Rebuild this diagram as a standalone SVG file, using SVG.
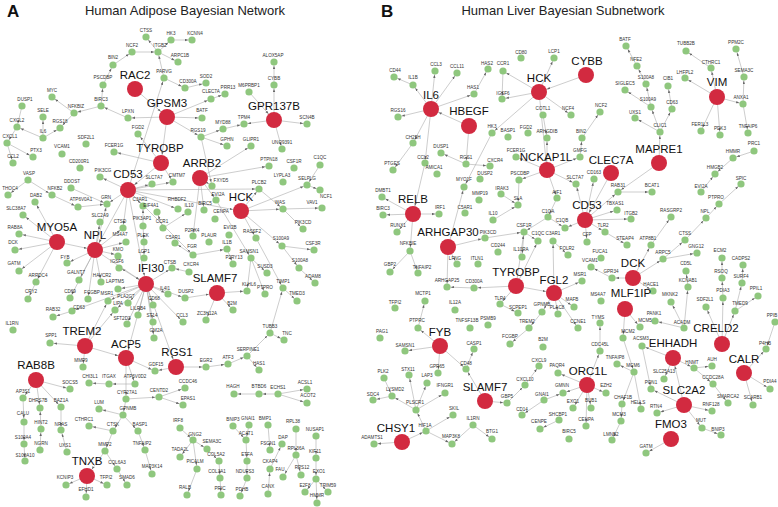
<svg xmlns="http://www.w3.org/2000/svg" width="778" height="507" viewBox="0 0 778 507">
<style>
.e{stroke:#ababab;stroke-width:0.6;fill:none}
.es line{marker-end:url(#ms)}
.eh line{marker-end:url(#mh)}
.g{fill:#8fc77e}
.r{fill:#d22a40}
.s{font-family:"Liberation Sans",Arial,sans-serif;font-size:4.6px;text-anchor:middle;fill:#333}
.h{font-family:"Liberation Sans",Arial,sans-serif;font-size:11.5px;text-anchor:middle;fill:#111}
.t{font-family:"Liberation Sans",Arial,sans-serif;font-size:13px;text-anchor:middle;fill:#222}
.p{font-family:"Liberation Sans",Arial,sans-serif;font-size:17px;font-weight:bold;fill:#111}
</style>
<defs>
<marker id="ms" markerUnits="userSpaceOnUse" markerWidth="4" markerHeight="3" refX="7" refY="1.2" orient="auto"><path d="M0,0L3.2,1.2L0,2.4z" fill="#666"/></marker>
<marker id="mh" markerUnits="userSpaceOnUse" markerWidth="4" markerHeight="3" refX="11.5" refY="1.2" orient="auto"><path d="M0,0L3.2,1.2L0,2.4z" fill="#666"/></marker>
</defs>
<rect width="778" height="507" fill="#fff"/>
<text class="p" x="7" y="17">A</text>
<text class="t" x="185" y="15">Human Adipose Bayesian Network</text>
<text class="p" x="381" y="17">B</text>
<text class="t" x="563" y="15">Human Liver Bayesian Subnetwork</text>
<g id="connectors" class="e">
<g class="es">
<line x1="171" y1="40" x2="192" y2="40"/><line x1="158" y1="52" x2="146" y2="37"/><line x1="158" y1="52" x2="171" y2="40"/><line x1="132" y1="52" x2="158" y2="52"/><line x1="113" y1="65" x2="132" y2="52"/><line x1="158" y1="52" x2="178" y2="62"/><line x1="164" y1="78" x2="158" y2="52"/><line x1="103" y1="85" x2="113" y2="65"/><line x1="101" y1="106" x2="103" y2="85"/><line x1="164" y1="78" x2="185" y2="88"/><line x1="128" y1="190" x2="164" y2="78"/><line x1="167" y1="117" x2="128" y2="118"/><line x1="128" y1="118" x2="101" y2="106"/><line x1="101" y1="106" x2="74" y2="113"/><line x1="74" y1="113" x2="52" y2="97"/><line x1="74" y1="113" x2="60" y2="128"/><line x1="43" y1="138" x2="43" y2="117"/><line x1="43" y1="138" x2="17" y2="127"/><line x1="22" y1="106" x2="17" y2="127"/><line x1="17" y1="127" x2="7" y2="143"/><line x1="7" y1="143" x2="33" y2="157"/><line x1="7" y1="143" x2="13" y2="163"/><line x1="43" y1="138" x2="60" y2="128"/><line x1="161" y1="163" x2="114" y2="152"/><line x1="161" y1="163" x2="138" y2="134"/><line x1="167" y1="117" x2="202" y2="118"/><line x1="167" y1="117" x2="211" y2="99"/><line x1="167" y1="117" x2="201" y2="137"/><line x1="185" y1="88" x2="206" y2="83"/><line x1="211" y1="99" x2="225" y2="94"/><line x1="201" y1="137" x2="223" y2="129"/><line x1="223" y1="129" x2="244" y2="124"/><line x1="201" y1="137" x2="227" y2="146"/><line x1="201" y1="137" x2="212" y2="186"/><line x1="200" y1="178" x2="251" y2="146"/><line x1="274" y1="120" x2="274" y2="85"/><line x1="274" y1="85" x2="274" y2="62"/><line x1="274" y1="120" x2="307" y2="124"/><line x1="274" y1="120" x2="282" y2="149"/><line x1="274" y1="120" x2="244" y2="124"/><line x1="200" y1="178" x2="269" y2="166"/><line x1="320" y1="165" x2="307" y2="185"/><line x1="307" y1="185" x2="320" y2="190"/><line x1="241" y1="211" x2="307" y2="185"/><line x1="241" y1="211" x2="259" y2="189"/><line x1="259" y1="189" x2="283" y2="209"/><line x1="241" y1="211" x2="283" y2="209"/><line x1="283" y1="209" x2="322" y2="208"/><line x1="283" y1="209" x2="303" y2="229"/><line x1="241" y1="211" x2="282" y2="246"/><line x1="282" y1="246" x2="314" y2="250"/><line x1="282" y1="246" x2="299" y2="268"/><line x1="299" y1="268" x2="315" y2="283"/><line x1="200" y1="178" x2="216" y2="200"/><line x1="216" y1="200" x2="251" y2="258"/><line x1="251" y1="258" x2="247" y2="291"/><line x1="251" y1="258" x2="265" y2="294"/><line x1="251" y1="258" x2="267" y2="273"/><line x1="256" y1="238" x2="283" y2="288"/><line x1="283" y1="288" x2="297" y2="301"/><line x1="270" y1="333" x2="283" y2="288"/><line x1="270" y1="333" x2="284" y2="340"/><line x1="217" y1="293" x2="247" y2="291"/><line x1="217" y1="293" x2="233" y2="310"/><line x1="217" y1="293" x2="206" y2="320"/><line x1="227" y1="249" x2="233" y2="264"/><line x1="193" y1="255" x2="227" y2="249"/><line x1="200" y1="178" x2="204" y2="210"/><line x1="200" y1="178" x2="193" y2="236"/><line x1="241" y1="211" x2="256" y2="238"/><line x1="176" y1="367" x2="206" y2="367"/><line x1="206" y1="367" x2="228" y2="364"/><line x1="228" y1="364" x2="247" y2="356"/><line x1="247" y1="356" x2="259" y2="370"/><line x1="247" y1="356" x2="270" y2="333"/><line x1="278" y1="394" x2="259" y2="394"/><line x1="259" y1="394" x2="234" y2="394"/><line x1="278" y1="394" x2="307" y2="389"/><line x1="278" y1="394" x2="307" y2="403"/><line x1="233" y1="426" x2="246" y2="440"/><line x1="249" y1="425" x2="246" y2="440"/><line x1="246" y1="440" x2="247" y2="461"/><line x1="247" y1="461" x2="247" y2="478"/><line x1="247" y1="478" x2="240" y2="496"/><line x1="268" y1="425" x2="270" y2="450"/><line x1="270" y1="469" x2="282" y2="444"/><line x1="268" y1="494" x2="270" y2="469"/><line x1="296" y1="429" x2="296" y2="455"/><line x1="296" y1="455" x2="283" y2="477"/><line x1="296" y1="455" x2="301" y2="475"/><line x1="316" y1="436" x2="316" y2="458"/><line x1="316" y1="458" x2="316" y2="479"/><line x1="316" y1="479" x2="305" y2="492"/><line x1="316" y1="479" x2="328" y2="492"/><line x1="316" y1="479" x2="317" y2="503"/><line x1="180" y1="428" x2="193" y2="440"/><line x1="193" y1="440" x2="207" y2="449"/><line x1="193" y1="440" x2="197" y2="469"/><line x1="197" y1="469" x2="187" y2="495"/><line x1="193" y1="440" x2="180" y2="457"/><line x1="219" y1="461" x2="220" y2="478"/><line x1="220" y1="478" x2="221" y2="495"/><line x1="207" y1="449" x2="219" y2="461"/><line x1="36" y1="380" x2="23" y2="398"/><line x1="36" y1="380" x2="40" y2="408"/><line x1="36" y1="380" x2="61" y2="407"/><line x1="36" y1="380" x2="70" y2="389"/><line x1="23" y1="398" x2="24" y2="422"/><line x1="24" y1="422" x2="24" y2="444"/><line x1="24" y1="444" x2="25" y2="461"/><line x1="41" y1="429" x2="40" y2="408"/><line x1="40" y1="450" x2="41" y2="429"/><line x1="61" y1="407" x2="61" y2="430"/><line x1="67" y1="452" x2="61" y2="430"/><line x1="85" y1="346" x2="50" y2="343"/><line x1="85" y1="346" x2="83" y2="367"/><line x1="126" y1="358" x2="135" y2="384"/><line x1="126" y1="358" x2="155" y2="371"/><line x1="176" y1="367" x2="155" y2="371"/><line x1="135" y1="384" x2="109" y2="384"/><line x1="109" y1="384" x2="89" y2="383"/><line x1="126" y1="358" x2="126" y2="399"/><line x1="126" y1="399" x2="159" y2="397"/><line x1="159" y1="397" x2="185" y2="388"/><line x1="159" y1="397" x2="183" y2="405"/><line x1="126" y1="399" x2="123" y2="415"/><line x1="123" y1="415" x2="99" y2="409"/><line x1="123" y1="415" x2="113" y2="431"/><line x1="123" y1="415" x2="138" y2="431"/><line x1="113" y1="431" x2="89" y2="426"/><line x1="113" y1="431" x2="105" y2="451"/><line x1="138" y1="431" x2="145" y2="450"/><line x1="145" y1="450" x2="152" y2="474"/><line x1="105" y1="451" x2="117" y2="469"/><line x1="117" y1="469" x2="127" y2="485"/><line x1="87" y1="476" x2="66" y2="485"/><line x1="87" y1="476" x2="107" y2="485"/><line x1="87" y1="476" x2="86" y2="497"/><line x1="146" y1="284" x2="154" y2="338"/><line x1="146" y1="284" x2="153" y2="322"/><line x1="146" y1="284" x2="183" y2="322"/><line x1="146" y1="284" x2="185" y2="298"/><line x1="146" y1="284" x2="168" y2="294"/><line x1="146" y1="284" x2="153" y2="305"/><line x1="146" y1="284" x2="172" y2="268"/><line x1="146" y1="284" x2="138" y2="315"/><line x1="146" y1="284" x2="128" y2="303"/><line x1="146" y1="284" x2="118" y2="289"/><line x1="146" y1="284" x2="115" y2="310"/><line x1="146" y1="284" x2="108" y2="301"/><line x1="146" y1="284" x2="127" y2="324"/><line x1="146" y1="284" x2="72" y2="311"/><line x1="146" y1="284" x2="119" y2="267"/><line x1="95" y1="250" x2="107" y2="204"/><line x1="95" y1="250" x2="100" y2="222"/><line x1="95" y1="250" x2="123" y2="228"/><line x1="95" y1="250" x2="126" y2="242"/><line x1="95" y1="250" x2="118" y2="255"/><line x1="95" y1="250" x2="101" y2="282"/><line x1="95" y1="250" x2="79" y2="280"/><line x1="95" y1="250" x2="67" y2="263"/><line x1="95" y1="250" x2="70" y2="298"/><line x1="95" y1="250" x2="88" y2="299"/><line x1="57" y1="242" x2="35" y2="202"/><line x1="57" y1="242" x2="23" y2="215"/><line x1="57" y1="242" x2="19" y2="234"/><line x1="57" y1="242" x2="15" y2="250"/><line x1="57" y1="242" x2="19" y2="271"/><line x1="57" y1="242" x2="36" y2="282"/><line x1="36" y1="282" x2="28" y2="299"/><line x1="28" y1="180" x2="52" y2="195"/><line x1="28" y1="180" x2="8" y2="195"/><line x1="52" y1="195" x2="78" y2="207"/><line x1="78" y1="207" x2="107" y2="204"/><line x1="128" y1="190" x2="107" y2="204"/><line x1="128" y1="190" x2="100" y2="177"/><line x1="128" y1="190" x2="152" y2="184"/><line x1="128" y1="190" x2="173" y2="182"/><line x1="128" y1="190" x2="143" y2="206"/><line x1="128" y1="190" x2="123" y2="228"/><line x1="128" y1="190" x2="193" y2="255"/><line x1="128" y1="190" x2="178" y2="209"/><line x1="128" y1="190" x2="259" y2="189"/><line x1="163" y1="228" x2="157" y2="212"/><line x1="163" y1="228" x2="188" y2="212"/><line x1="143" y1="226" x2="143" y2="206"/><line x1="161" y1="163" x2="173" y2="182"/><line x1="143" y1="226" x2="144" y2="242"/><line x1="144" y1="242" x2="144" y2="258"/><line x1="193" y1="255" x2="175" y2="243"/><line x1="189" y1="272" x2="172" y2="268"/><line x1="72" y1="311" x2="53" y2="317"/><line x1="85" y1="346" x2="115" y2="310"/><line x1="85" y1="346" x2="108" y2="301"/><line x1="200" y1="178" x2="212" y2="186"/><line x1="71" y1="188" x2="107" y2="204"/>
<line x1="413" y1="85" x2="394" y2="77"/><line x1="431" y1="109" x2="413" y2="85"/><line x1="431" y1="109" x2="435" y2="71"/><line x1="431" y1="109" x2="457" y2="73"/><line x1="431" y1="109" x2="398" y2="117"/><line x1="431" y1="109" x2="474" y2="94"/><line x1="474" y1="94" x2="488" y2="69"/><line x1="431" y1="109" x2="413" y2="143"/><line x1="431" y1="109" x2="425" y2="163"/><line x1="413" y1="143" x2="393" y2="170"/><line x1="469" y1="126" x2="466" y2="164"/><line x1="466" y1="164" x2="441" y2="153"/><line x1="466" y1="164" x2="490" y2="166"/><line x1="503" y1="71" x2="502" y2="99"/><line x1="539" y1="92" x2="502" y2="99"/><line x1="539" y1="92" x2="503" y2="71"/><line x1="539" y1="92" x2="571" y2="115"/><line x1="539" y1="92" x2="492" y2="133"/><line x1="492" y1="133" x2="464" y2="187"/><line x1="543" y1="115" x2="547" y2="138"/><line x1="547" y1="170" x2="547" y2="138"/><line x1="547" y1="170" x2="516" y2="157"/><line x1="547" y1="170" x2="580" y2="157"/><line x1="580" y1="157" x2="582" y2="138"/><line x1="582" y1="138" x2="600" y2="112"/><line x1="547" y1="170" x2="519" y2="180"/><line x1="547" y1="170" x2="557" y2="198"/><line x1="547" y1="170" x2="576" y2="184"/><line x1="519" y1="180" x2="518" y2="205"/><line x1="501" y1="194" x2="518" y2="205"/><line x1="493" y1="220" x2="518" y2="205"/><line x1="557" y1="198" x2="548" y2="217"/><line x1="548" y1="217" x2="524" y2="232"/><line x1="548" y1="217" x2="565" y2="228"/><line x1="524" y1="232" x2="538" y2="241"/><line x1="485" y1="238" x2="524" y2="232"/><line x1="448" y1="247" x2="485" y2="238"/><line x1="448" y1="247" x2="464" y2="187"/><line x1="448" y1="247" x2="447" y2="287"/><line x1="448" y1="247" x2="457" y2="264"/><line x1="524" y1="232" x2="522" y2="257"/><line x1="516" y1="286" x2="524" y2="232"/><line x1="516" y1="286" x2="474" y2="288"/><line x1="474" y1="288" x2="447" y2="287"/><line x1="516" y1="286" x2="500" y2="304"/><line x1="554" y1="293" x2="553" y2="241"/><line x1="553" y1="241" x2="568" y2="255"/><line x1="516" y1="286" x2="538" y2="241"/><line x1="554" y1="293" x2="582" y2="281"/><line x1="554" y1="293" x2="574" y2="307"/><line x1="554" y1="293" x2="558" y2="314"/><line x1="554" y1="293" x2="542" y2="312"/><line x1="542" y1="312" x2="529" y2="328"/><line x1="500" y1="304" x2="518" y2="313"/><line x1="585" y1="220" x2="565" y2="228"/><line x1="585" y1="220" x2="594" y2="179"/><line x1="585" y1="220" x2="618" y2="192"/><line x1="618" y1="192" x2="652" y2="192"/><line x1="585" y1="220" x2="617" y2="210"/><line x1="585" y1="220" x2="631" y2="219"/><line x1="585" y1="220" x2="605" y2="232"/><line x1="605" y1="232" x2="627" y2="245"/><line x1="585" y1="220" x2="587" y2="242"/><line x1="585" y1="220" x2="576" y2="184"/><line x1="659" y1="163" x2="660" y2="132"/><line x1="660" y1="132" x2="635" y2="118"/><line x1="660" y1="132" x2="651" y2="107"/><line x1="660" y1="132" x2="672" y2="109"/><line x1="672" y1="109" x2="668" y2="86"/><line x1="651" y1="107" x2="625" y2="90"/><line x1="651" y1="107" x2="646" y2="84"/><line x1="646" y1="84" x2="637" y2="66"/><line x1="637" y1="66" x2="626" y2="46"/><line x1="659" y1="163" x2="618" y2="192"/><line x1="717" y1="97" x2="685" y2="78"/><line x1="717" y1="97" x2="711" y2="68"/><line x1="711" y1="68" x2="686" y2="51"/><line x1="717" y1="97" x2="743" y2="104"/><line x1="743" y1="104" x2="744" y2="77"/><line x1="744" y1="77" x2="736" y2="49"/><line x1="743" y1="104" x2="748" y2="133"/><line x1="717" y1="97" x2="701" y2="131"/><line x1="717" y1="97" x2="720" y2="135"/><line x1="754" y1="151" x2="733" y2="158"/><line x1="733" y1="158" x2="715" y2="174"/><line x1="719" y1="204" x2="741" y2="184"/><line x1="706" y1="218" x2="719" y2="204"/><line x1="685" y1="240" x2="706" y2="218"/><line x1="663" y1="259" x2="685" y2="240"/><line x1="663" y1="259" x2="697" y2="253"/><line x1="633" y1="278" x2="663" y2="259"/><line x1="633" y1="278" x2="651" y2="245"/><line x1="651" y1="245" x2="671" y2="217"/><line x1="633" y1="278" x2="653" y2="291"/><line x1="633" y1="278" x2="612" y2="278"/><line x1="612" y1="278" x2="591" y2="267"/><line x1="701" y1="192" x2="715" y2="174"/><line x1="722" y1="344" x2="706" y2="307"/><line x1="722" y1="344" x2="723" y2="298"/><line x1="722" y1="344" x2="735" y2="311"/><line x1="723" y1="298" x2="722" y2="278"/><line x1="722" y1="278" x2="722" y2="258"/><line x1="735" y1="311" x2="742" y2="283"/><line x1="742" y1="283" x2="743" y2="265"/><line x1="735" y1="311" x2="758" y2="296"/><line x1="744" y1="373" x2="766" y2="349"/><line x1="744" y1="373" x2="770" y2="389"/><line x1="744" y1="373" x2="753" y2="405"/><line x1="775" y1="322" x2="766" y2="349"/><line x1="673" y1="358" x2="642" y2="346"/><line x1="673" y1="358" x2="694" y2="368"/><line x1="694" y1="368" x2="712" y2="366"/><line x1="673" y1="358" x2="664" y2="379"/><line x1="694" y1="368" x2="713" y2="384"/><line x1="713" y1="384" x2="728" y2="403"/><line x1="684" y1="405" x2="651" y2="389"/><line x1="684" y1="405" x2="657" y2="413"/><line x1="684" y1="405" x2="712" y2="411"/><line x1="684" y1="405" x2="702" y2="428"/><line x1="702" y1="428" x2="721" y2="435"/><line x1="671" y1="439" x2="646" y2="453"/><line x1="642" y1="346" x2="651" y2="389"/><line x1="587" y1="385" x2="600" y2="351"/><line x1="587" y1="385" x2="606" y2="393"/><line x1="587" y1="385" x2="591" y2="408"/><line x1="587" y1="385" x2="586" y2="426"/><line x1="587" y1="385" x2="558" y2="373"/><line x1="587" y1="385" x2="563" y2="393"/><line x1="587" y1="385" x2="573" y2="408"/><line x1="600" y1="351" x2="600" y2="323"/><line x1="634" y1="372" x2="617" y2="364"/><line x1="634" y1="372" x2="641" y2="409"/><line x1="634" y1="372" x2="622" y2="404"/><line x1="622" y1="404" x2="621" y2="421"/><line x1="621" y1="421" x2="612" y2="440"/><line x1="623" y1="338" x2="634" y2="372"/><line x1="625" y1="309" x2="640" y2="327"/><line x1="625" y1="309" x2="623" y2="338"/><line x1="684" y1="328" x2="688" y2="287"/><line x1="688" y1="287" x2="686" y2="271"/><line x1="684" y1="328" x2="671" y2="302"/><line x1="684" y1="328" x2="655" y2="321"/><line x1="559" y1="420" x2="540" y2="429"/><line x1="544" y1="400" x2="522" y2="415"/><line x1="544" y1="400" x2="563" y2="393"/><line x1="525" y1="385" x2="539" y2="366"/><line x1="485" y1="401" x2="507" y2="403"/><line x1="507" y1="403" x2="525" y2="385"/><line x1="485" y1="401" x2="466" y2="369"/><line x1="466" y1="369" x2="474" y2="349"/><line x1="440" y1="346" x2="466" y2="369"/><line x1="440" y1="346" x2="418" y2="328"/><line x1="440" y1="346" x2="405" y2="351"/><line x1="440" y1="346" x2="438" y2="373"/><line x1="418" y1="328" x2="425" y2="301"/><line x1="416" y1="410" x2="409" y2="375"/><line x1="416" y1="410" x2="427" y2="383"/><line x1="416" y1="410" x2="392" y2="396"/><line x1="426" y1="431" x2="416" y2="410"/><line x1="426" y1="431" x2="453" y2="415"/><line x1="426" y1="431" x2="452" y2="444"/><line x1="402" y1="442" x2="426" y2="431"/><line x1="402" y1="442" x2="374" y2="444"/><line x1="473" y1="425" x2="452" y2="444"/><line x1="473" y1="425" x2="492" y2="439"/><line x1="416" y1="410" x2="445" y2="393"/><line x1="392" y1="396" x2="373" y2="400"/><line x1="384" y1="378" x2="392" y2="396"/><line x1="413" y1="214" x2="439" y2="214"/><line x1="413" y1="214" x2="383" y2="215"/><line x1="413" y1="214" x2="382" y2="197"/><line x1="413" y1="214" x2="397" y2="232"/><line x1="413" y1="214" x2="410" y2="251"/><line x1="410" y1="251" x2="390" y2="272"/><line x1="410" y1="251" x2="418" y2="273"/><line x1="529" y1="328" x2="510" y2="344"/><line x1="539" y1="92" x2="554" y2="58"/><line x1="554" y1="293" x2="578" y2="328"/>
</g>
<g class="eh">
<line x1="135" y1="89" x2="167" y2="117"/><line x1="167" y1="117" x2="161" y2="163"/><line x1="249" y1="92" x2="274" y2="120"/><line x1="128" y1="190" x2="241" y2="211"/><line x1="185" y1="298" x2="217" y2="293"/><line x1="85" y1="346" x2="126" y2="358"/><line x1="105" y1="451" x2="87" y2="476"/><line x1="146" y1="284" x2="126" y2="358"/><line x1="146" y1="284" x2="176" y2="367"/><line x1="128" y1="190" x2="146" y2="284"/><line x1="95" y1="250" x2="146" y2="284"/><line x1="128" y1="190" x2="95" y2="250"/><line x1="57" y1="242" x2="95" y2="250"/><line x1="161" y1="163" x2="128" y2="190"/>
<line x1="469" y1="126" x2="431" y2="109"/><line x1="586" y1="75" x2="539" y2="92"/><line x1="539" y1="92" x2="547" y2="170"/><line x1="516" y1="286" x2="554" y2="293"/><line x1="611" y1="173" x2="585" y2="220"/><line x1="684" y1="405" x2="673" y2="358"/><line x1="425" y1="163" x2="413" y2="214"/>
</g>
</g>
<g id="a_CTSS"><circle class="g" cx="146" cy="37" r="3.6"/><text class="s" x="146" y="31.5">CTSS</text></g>
<g id="a_HK3"><circle class="g" cx="171" cy="40" r="3.6"/><text class="s" x="171" y="34.5">HK3</text></g>
<g id="a_KCNN4"><circle class="g" cx="192" cy="40" r="3.6"/><text class="s" x="195" y="34.5">KCNN4</text></g>
<g id="a_NCF2"><circle class="g" cx="132" cy="52" r="3.6"/><text class="s" x="132" y="46.5">NCF2</text></g>
<g id="a_ITGB2"><circle class="g" cx="158" cy="52" r="3.6"/><text class="s" x="160" y="46.5">ITGB2</text></g>
<g id="a_ARPC1B"><circle class="g" cx="178" cy="62" r="3.6"/><text class="s" x="180" y="56.5">ARPC1B</text></g>
<g id="a_BIN2"><circle class="g" cx="113" cy="65" r="3.6"/><text class="s" x="113" y="58.6">BIN2</text></g>
<g id="a_PARVG"><circle class="g" cx="164" cy="78" r="3.6"/><text class="s" x="164" y="72.5">PARVG</text></g>
<g id="a_CD300A"><circle class="g" cx="185" cy="88" r="3.6"/><text class="s" x="188" y="82.5">CD300A</text></g>
<g id="a_PSCDBP"><circle class="g" cx="103" cy="85" r="3.6"/><text class="s" x="103" y="78.6">PSCDBP</text></g>
<g id="a_MYC"><circle class="g" cx="52" cy="97" r="3.6"/><text class="s" x="52" y="91.5">MYC</text></g>
<g id="a_DUSP1"><circle class="g" cx="22" cy="106" r="3.6"/><text class="s" x="25" y="100.5">DUSP1</text></g>
<g id="a_NFKBIZ"><circle class="g" cx="74" cy="113" r="3.6"/><text class="s" x="76" y="107.5">NFKBIZ</text></g>
<g id="a_BIRC3"><circle class="g" cx="101" cy="106" r="3.6"/><text class="s" x="101" y="100.5">BIRC3</text></g>
<g id="a_LPXN"><circle class="g" cx="128" cy="118" r="3.6"/><text class="s" x="128" y="112.5">LPXN</text></g>
<g id="a_SELE"><circle class="g" cx="43" cy="117" r="3.6"/><text class="s" x="43" y="111.5">SELE</text></g>
<g id="a_RGS18"><circle class="g" cx="60" cy="128" r="3.6"/><text class="s" x="60" y="122.5">RGS18</text></g>
<g id="a_CXCL2"><circle class="g" cx="17" cy="127" r="3.6"/><text class="s" x="17" y="121.5">CXCL2</text></g>
<g id="a_IL6"><circle class="g" cx="43" cy="138" r="3.6"/><text class="s" x="43" y="133">IL6</text></g>
<g id="a_FGD2"><circle class="g" cx="138" cy="134" r="3.6"/><text class="s" x="138" y="128.5">FGD2</text></g>
<g id="a_CXCL1"><circle class="g" cx="7" cy="143" r="3.6"/><text class="s" x="10" y="137.5">CXCL1</text></g>
<g id="a_SDF2L1"><circle class="g" cx="86" cy="144" r="3.6"/><text class="s" x="86" y="138.5">SDF2L1</text></g>
<g id="a_FCER1G"><circle class="g" cx="114" cy="152" r="3.6"/><text class="s" x="114" y="146.5">FCER1G</text></g>
<g id="a_PTX3"><circle class="g" cx="33" cy="157" r="3.6"/><text class="s" x="36" y="151.5">PTX3</text></g>
<g id="a_VCAM1"><circle class="g" cx="62" cy="154" r="3.6"/><text class="s" x="62" y="148">VCAM1</text></g>
<g id="a_CCL2"><circle class="g" cx="13" cy="163" r="3.6"/><text class="s" x="13" y="157.5">CCL2</text></g>
<g id="a_CD200R1"><circle class="g" cx="80" cy="168" r="3.6"/><text class="s" x="79" y="162.5">CD200R1</text></g>
<g id="a_PIK3CG"><circle class="g" cx="100" cy="177" r="3.6"/><text class="s" x="103" y="171.5">PIK3CG</text></g>
<g id="a_SOD2"><circle class="g" cx="206" cy="83" r="3.6"/><text class="s" x="206" y="77.5">SOD2</text></g>
<g id="a_PRR13"><circle class="g" cx="225" cy="94" r="3.6"/><text class="s" x="228" y="88.5">PRR13</text></g>
<g id="a_CLEC7A"><circle class="g" cx="211" cy="99" r="3.6"/><text class="s" x="211" y="93">CLEC7A</text></g>
<g id="a_ALOX5AP"><circle class="g" cx="274" cy="62" r="3.6"/><text class="s" x="273" y="56.5">ALOX5AP</text></g>
<g id="a_M6PRBP1"><circle class="g" cx="249" cy="92" r="3.6"/><text class="s" x="249" y="86.5">M6PRBP1</text></g>
<g id="a_CYBB"><circle class="g" cx="274" cy="85" r="3.6"/><text class="s" x="274" y="79.5">CYBB</text></g>
<g id="a_SCN4B"><circle class="g" cx="307" cy="124" r="3.6"/><text class="s" x="307" y="118.5">SCN4B</text></g>
<g id="a_BATF"><circle class="g" cx="202" cy="118" r="3.6"/><text class="s" x="202" y="112">BATF</text></g>
<g id="a_MYD88"><circle class="g" cx="223" cy="129" r="3.6"/><text class="s" x="223" y="123.5">MYD88</text></g>
<g id="a_TPM4"><circle class="g" cx="244" cy="124" r="3.6"/><text class="s" x="244" y="118.5">TPM4</text></g>
<g id="a_RGS19"><circle class="g" cx="201" cy="137" r="3.6"/><text class="s" x="198" y="131.5">RGS19</text></g>
<g id="a_GPHN"><circle class="g" cx="227" cy="146" r="3.6"/><text class="s" x="227" y="140.5">GPHN</text></g>
<g id="a_GLIPR1"><circle class="g" cx="251" cy="146" r="3.6"/><text class="s" x="251" y="140.5">GLIPR1</text></g>
<g id="a_UNQ9391"><circle class="g" cx="282" cy="149" r="3.6"/><text class="s" x="282" y="143.5">UNQ9391</text></g>
<g id="a_PTPN18"><circle class="g" cx="269" cy="166" r="3.6"/><text class="s" x="269" y="160.5">PTPN18</text></g>
<g id="a_CSF1R"><circle class="g" cx="294" cy="168" r="3.6"/><text class="s" x="294" y="162.5">CSF1R</text></g>
<g id="a_C1QC"><circle class="g" cx="320" cy="165" r="3.6"/><text class="s" x="320" y="158.6">C1QC</text></g>
<g id="a_LYPLA3"><circle class="g" cx="283" cy="182" r="3.6"/><text class="s" x="282" y="176.5">LYPLA3</text></g>
<g id="a_SELPLG"><circle class="g" cx="307" cy="185" r="3.6"/><text class="s" x="307" y="179.5">SELPLG</text></g>
<g id="a_NCF1"><circle class="g" cx="320" cy="190" r="3.6"/><text class="s" x="326" y="197.5">NCF1</text></g>
<g id="a_PLCB2"><circle class="g" cx="259" cy="189" r="3.6"/><text class="s" x="259" y="183.5">PLCB2</text></g>
<g id="a_WAS"><circle class="g" cx="283" cy="209" r="3.6"/><text class="s" x="280" y="203.5">WAS</text></g>
<g id="a_VAV1"><circle class="g" cx="322" cy="208" r="3.6"/><text class="s" x="312" y="203.5">VAV1</text></g>
<g id="a_PIK3CD"><circle class="g" cx="303" cy="229" r="3.6"/><text class="s" x="303" y="223.5">PIK3CD</text></g>
<g id="a_S100A9"><circle class="g" cx="282" cy="246" r="3.6"/><text class="s" x="281" y="239.6">S100A9</text></g>
<g id="a_CSF3R"><circle class="g" cx="314" cy="250" r="3.6"/><text class="s" x="313" y="244.5">CSF3R</text></g>
<g id="a_S100A8"><circle class="g" cx="299" cy="268" r="3.6"/><text class="s" x="300" y="261.6">S100A8</text></g>
<g id="a_ADAM8"><circle class="g" cx="315" cy="283" r="3.6"/><text class="s" x="313" y="277.5">ADAM8</text></g>
<g id="a_SLC7A7"><circle class="g" cx="152" cy="184" r="3.6"/><text class="s" x="154" y="179">SLC7A7</text></g>
<g id="a_CMTM7"><circle class="g" cx="173" cy="182" r="3.6"/><text class="s" x="177" y="176.5">CMTM7</text></g>
<g id="a_FXYD5"><circle class="g" cx="212" cy="186" r="3.6"/><text class="s" x="221" y="182">FXYD5</text></g>
<g id="a_EVI2A"><circle class="g" cx="216" cy="200" r="3.6"/><text class="s" x="218" y="195.5">EVI2A</text></g>
<g id="a_VASP"><circle class="g" cx="28" cy="180" r="3.6"/><text class="s" x="29" y="174.5">VASP</text></g>
<g id="a_THOC4"><circle class="g" cx="8" cy="195" r="3.6"/><text class="s" x="10" y="190">THOC4</text></g>
<g id="a_NFKB2"><circle class="g" cx="52" cy="195" r="3.6"/><text class="s" x="55" y="190">NFKB2</text></g>
<g id="a_DDOST"><circle class="g" cx="71" cy="188" r="3.6"/><text class="s" x="72" y="182.5">DDOST</text></g>
<g id="a_DAB2"><circle class="g" cx="35" cy="202" r="3.6"/><text class="s" x="36" y="196.5">DAB2</text></g>
<g id="a_ATP6V0A1"><circle class="g" cx="78" cy="207" r="3.6"/><text class="s" x="81" y="201">ATP6V0A1</text></g>
<g id="a_GRN"><circle class="g" cx="107" cy="204" r="3.6"/><text class="s" x="106" y="198.5">GRN</text></g>
<g id="a_C3AR1"><circle class="g" cx="143" cy="206" r="3.6"/><text class="s" x="140" y="200.5">C3AR1</text></g>
<g id="a_RHBDF2"><circle class="g" cx="178" cy="209" r="3.6"/><text class="s" x="177" y="201">RHBDF2</text></g>
<g id="a_EIF4A1"><circle class="g" cx="157" cy="212" r="3.6"/><text class="s" x="151" y="206.5">EIF4A1</text></g>
<g id="a_IL10"><circle class="g" cx="188" cy="212" r="3.6"/><text class="s" x="189" y="207">IL10</text></g>
<g id="a_SLC38A7"><circle class="g" cx="23" cy="215" r="3.6"/><text class="s" x="16" y="209.5">SLC38A7</text></g>
<g id="a_SLC2A9"><circle class="g" cx="100" cy="222" r="3.6"/><text class="s" x="100" y="216.5">SLC2A9</text></g>
<g id="a_CTSD"><circle class="g" cx="123" cy="228" r="3.6"/><text class="s" x="120" y="222.5">CTSD</text></g>
<g id="a_PIK3AP1"><circle class="g" cx="143" cy="226" r="3.6"/><text class="s" x="142" y="219.6">PIK3AP1</text></g>
<g id="a_CCR1"><circle class="g" cx="163" cy="228" r="3.6"/><text class="s" x="162" y="223">CCR1</text></g>
<g id="a_RAB8A"><circle class="g" cx="19" cy="234" r="3.6"/><text class="s" x="15" y="228.5">RAB8A</text></g>
<g id="a_MS4A7"><circle class="g" cx="126" cy="242" r="3.6"/><text class="s" x="120" y="235.6">MS4A7</text></g>
<g id="a_KMO"><circle class="g" cx="118" cy="256" r="3.6"/><text class="s" x="118" y="250.5">KMO</text></g>
<g id="a_PLEK"><circle class="g" cx="144" cy="242" r="3.6"/><text class="s" x="143" y="236.6">PLEK</text></g>
<g id="a_LCP1"><circle class="g" cx="144" cy="258" r="3.6"/><text class="s" x="144" y="252.5">LCP1</text></g>
<g id="a_C5AR1"><circle class="g" cx="175" cy="243" r="3.6"/><text class="s" x="173" y="238.5">C5AR1</text></g>
<g id="a_P2RX4"><circle class="g" cx="193" cy="236" r="3.6"/><text class="s" x="192" y="231.5">P2RX4</text></g>
<g id="a_FGR"><circle class="g" cx="193" cy="255" r="3.6"/><text class="s" x="192" y="248">FGR</text></g>
<g id="a_DCK"><circle class="g" cx="15" cy="250" r="3.6"/><text class="s" x="13" y="243.6">DCK</text></g>
<g id="a_FYB"><circle class="g" cx="67" cy="263" r="3.6"/><text class="s" x="65" y="258.5">FYB</text></g>
<g id="a_GATM"><circle class="g" cx="19" cy="271" r="3.6"/><text class="s" x="14" y="264.6">GATM</text></g>
<g id="a_IGSF6"><circle class="g" cx="119" cy="268" r="3.6"/><text class="s" x="117" y="263">IGSF6</text></g>
<g id="a_CTSB"><circle class="g" cx="172" cy="268" r="3.6"/><text class="s" x="170" y="263.5">CTSB</text></g>
<g id="a_CXCR4"><circle class="g" cx="189" cy="272" r="3.6"/><text class="s" x="191" y="265.5">CXCR4</text></g>
<g id="a_ARRDC4"><circle class="g" cx="36" cy="282" r="3.6"/><text class="s" x="38" y="276.5">ARRDC4</text></g>
<g id="a_CRY2"><circle class="g" cx="28" cy="299" r="3.6"/><text class="s" x="31" y="292.6">CRY2</text></g>
<g id="a_GALNT7"><circle class="g" cx="79" cy="280" r="3.6"/><text class="s" x="76" y="273.6">GALNT7</text></g>
<g id="a_HAVCR2"><circle class="g" cx="101" cy="282" r="3.6"/><text class="s" x="102" y="277.2">HAVCR2</text></g>
<g id="a_LAPTM5"><circle class="g" cx="118" cy="289" r="3.6"/><text class="s" x="115" y="283">LAPTM5</text></g>
<g id="a_IL4I1"><circle class="g" cx="168" cy="294" r="3.6"/><text class="s" x="165" y="289.5">IL4I1</text></g>
<g id="a_DUSP2"><circle class="g" cx="185" cy="298" r="3.6"/><text class="s" x="186" y="293">DUSP2</text></g>
<g id="a_CD68"><circle class="g" cx="153" cy="305" r="3.6"/><text class="s" x="154" y="299.5">CD68</text></g>
<g id="a_CD69"><circle class="g" cx="70" cy="298" r="3.6"/><text class="s" x="70" y="292.5">CD69</text></g>
<g id="a_FCGBP"><circle class="g" cx="88" cy="299" r="3.6"/><text class="s" x="92" y="294">FCGBP</text></g>
<g id="a_MSR1"><circle class="g" cx="108" cy="301" r="3.6"/><text class="s" x="107" y="294.5">MSR1</text></g>
<g id="a_PLA2G7"><circle class="g" cx="128" cy="303" r="3.6"/><text class="s" x="126" y="298">PLA2G7</text></g>
<g id="a_LIPA"><circle class="g" cx="115" cy="310" r="3.6"/><text class="s" x="118" y="305.2">LIPA</text></g>
<g id="a_CD63"><circle class="g" cx="72" cy="311" r="3.6"/><text class="s" x="79" y="308.5">CD63</text></g>
<g id="a_RAB32"><circle class="g" cx="53" cy="317" r="3.6"/><text class="s" x="53" y="310.6">RAB32</text></g>
<g id="a_LILRB4"><circle class="g" cx="138" cy="315" r="3.6"/><text class="s" x="138" y="309.6">LILRB4</text></g>
<g id="a_ST14"><circle class="g" cx="153" cy="322" r="3.6"/><text class="s" x="152" y="316.6">ST14</text></g>
<g id="a_SFT2D2"><circle class="g" cx="127" cy="324" r="3.6"/><text class="s" x="122" y="319.6">SFT2D2</text></g>
<g id="a_CCL3"><circle class="g" cx="183" cy="322" r="3.6"/><text class="s" x="182" y="316.6">CCL3</text></g>
<g id="a_GM2A"><circle class="g" cx="154" cy="338" r="3.6"/><text class="s" x="156" y="331.6">GM2A</text></g>
<g id="a_IL1RN"><circle class="g" cx="13" cy="330" r="3.6"/><text class="s" x="12" y="324.6">IL1RN</text></g>
<g id="a_SPP1"><circle class="g" cx="50" cy="343" r="3.6"/><text class="s" x="51" y="336.6">SPP1</text></g>
<g id="a_ZC3H12A"><circle class="g" cx="206" cy="320" r="3.6"/><text class="s" x="207" y="314.6">ZC3H12A</text></g>
<g id="a_BIRC5"><circle class="g" cx="204" cy="210" r="3.6"/><text class="s" x="205" y="204.6">BIRC5</text></g>
<g id="a_CENPA"><circle class="g" cx="215" cy="219" r="3.6"/><text class="s" x="221" y="213">CENPA</text></g>
<g id="a_EVI2B"><circle class="g" cx="229" cy="235" r="3.6"/><text class="s" x="230" y="228.6">EVI2B</text></g>
<g id="a_PLAUR"><circle class="g" cx="209" cy="242" r="3.6"/><text class="s" x="209" y="236.6">PLAUR</text></g>
<g id="a_IL1B"><circle class="g" cx="227" cy="249" r="3.6"/><text class="s" x="227" y="243.6">IL1B</text></g>
<g id="a_RASSF2"><circle class="g" cx="256" cy="238" r="3.6"/><text class="s" x="252" y="232.6">RASSF2</text></g>
<g id="a_P2RY13"><circle class="g" cx="233" cy="264" r="3.6"/><text class="s" x="234" y="258.6">P2RY13</text></g>
<g id="a_SAMSN1"><circle class="g" cx="251" cy="258" r="3.6"/><text class="s" x="249" y="252.6">SAMSN1</text></g>
<g id="a_SUSD3"><circle class="g" cx="267" cy="273" r="3.6"/><text class="s" x="265" y="267.6">SUSD3</text></g>
<g id="a_TIMP1"><circle class="g" cx="283" cy="288" r="3.6"/><text class="s" x="283" y="282.6">TIMP1</text></g>
<g id="a_TMED3"><circle class="g" cx="297" cy="301" r="3.6"/><text class="s" x="297" y="294.6">TMED3</text></g>
<g id="a_PTPRO"><circle class="g" cx="265" cy="294" r="3.6"/><text class="s" x="265" y="289.2">PTPRO</text></g>
<g id="a_KLHL6"><circle class="g" cx="247" cy="291" r="3.6"/><text class="s" x="249" y="285.8">KLHL6</text></g>
<g id="a_B2M"><circle class="g" cx="233" cy="310" r="3.6"/><text class="s" x="232" y="304.6">B2M</text></g>
<g id="a_TUBB3"><circle class="g" cx="270" cy="333" r="3.6"/><text class="s" x="270" y="327.6">TUBB3</text></g>
<g id="a_TNC"><circle class="g" cx="284" cy="340" r="3.6"/><text class="s" x="287" y="334.6">TNC</text></g>
<g id="a_SERPINE1"><circle class="g" cx="247" cy="356" r="3.6"/><text class="s" x="248" y="350.6">SERPINE1</text></g>
<g id="a_HAS1"><circle class="g" cx="259" cy="370" r="3.6"/><text class="s" x="259" y="364.6">HAS1</text></g>
<g id="a_ATF3"><circle class="g" cx="228" cy="364" r="3.6"/><text class="s" x="228" y="358.6">ATF3</text></g>
<g id="a_EGR2"><circle class="g" cx="206" cy="367" r="3.6"/><text class="s" x="206" y="361.6">EGR2</text></g>
<g id="a_HAGH"><circle class="g" cx="234" cy="394" r="3.6"/><text class="s" x="233" y="387.6">HAGH</text></g>
<g id="a_BTBD6"><circle class="g" cx="259" cy="394" r="3.6"/><text class="s" x="259" y="387.6">BTBD6</text></g>
<g id="a_ECHS1"><circle class="g" cx="278" cy="394" r="3.6"/><text class="s" x="278" y="388.6">ECHS1</text></g>
<g id="a_ACSL1"><circle class="g" cx="307" cy="389" r="3.6"/><text class="s" x="305" y="383.6">ACSL1</text></g>
<g id="a_ACOT2"><circle class="g" cx="307" cy="403" r="3.6"/><text class="s" x="308" y="396.6">ACOT2</text></g>
<g id="a_BNIP3"><circle class="g" cx="233" cy="426" r="3.6"/><text class="s" x="233" y="420.6">BNIP3</text></g>
<g id="a_GNAI1"><circle class="g" cx="249" cy="425" r="3.6"/><text class="s" x="248" y="419.6">GNAI1</text></g>
<g id="a_ACAT1"><circle class="g" cx="246" cy="440" r="3.6"/><text class="s" x="246" y="435">ACAT1</text></g>
<g id="a_ETFA"><circle class="g" cx="247" cy="461" r="3.6"/><text class="s" x="247" y="455.6">ETFA</text></g>
<g id="a_NDUFS3"><circle class="g" cx="247" cy="478" r="3.6"/><text class="s" x="245" y="472.6">NDUFS3</text></g>
<g id="a_PDHB"><circle class="g" cx="240" cy="496" r="3.6"/><text class="s" x="242" y="490.6">PDHB</text></g>
<g id="a_BMP1"><circle class="g" cx="268" cy="425" r="3.6"/><text class="s" x="265" y="419.6">BMP1</text></g>
<g id="a_FSCN1"><circle class="g" cx="270" cy="450" r="3.6"/><text class="s" x="268" y="444.6">FSCN1</text></g>
<g id="a_CKAP4"><circle class="g" cx="270" cy="469" r="3.6"/><text class="s" x="270" y="462.6">CKAP4</text></g>
<g id="a_CANX"><circle class="g" cx="268" cy="494" r="3.6"/><text class="s" x="268" y="487.6">CANX</text></g>
<g id="a_DAP"><circle class="g" cx="282" cy="444" r="3.6"/><text class="s" x="283" y="438.6">DAP</text></g>
<g id="a_RPL38"><circle class="g" cx="296" cy="429" r="3.6"/><text class="s" x="293" y="422.6">RPL38</text></g>
<g id="a_RPL36A"><circle class="g" cx="296" cy="455" r="3.6"/><text class="s" x="296" y="449.6">RPL36A</text></g>
<g id="a_FAU"><circle class="g" cx="283" cy="477" r="3.6"/><text class="s" x="280" y="470.6">FAU</text></g>
<g id="a_RPS12"><circle class="g" cx="301" cy="475" r="3.6"/><text class="s" x="302" y="468.6">RPS12</text></g>
<g id="a_NUSAP1"><circle class="g" cx="316" cy="436" r="3.6"/><text class="s" x="315" y="430.6">NUSAP1</text></g>
<g id="a_KIF11"><circle class="g" cx="316" cy="458" r="3.6"/><text class="s" x="315" y="452.6">KIF11</text></g>
<g id="a_EXO1"><circle class="g" cx="316" cy="479" r="3.6"/><text class="s" x="319" y="472.6">EXO1</text></g>
<g id="a_E2F8"><circle class="g" cx="305" cy="492" r="3.6"/><text class="s" x="305" y="486.6">E2F8</text></g>
<g id="a_TRIM59"><circle class="g" cx="328" cy="492" r="3.6"/><text class="s" x="328" y="486.6">TRIM59</text></g>
<g id="a_HMMR"><circle class="g" cx="317" cy="503" r="3.6"/><text class="s" x="317" y="497">HMMR</text></g>
<g id="a_SEMA3C"><circle class="g" cx="207" cy="449" r="3.6"/><text class="s" x="212" y="442.6">SEMA3C</text></g>
<g id="a_COL5A2"><circle class="g" cx="219" cy="461" r="3.6"/><text class="s" x="216" y="456">COL5A2</text></g>
<g id="a_COL3A1"><circle class="g" cx="220" cy="478" r="3.6"/><text class="s" x="217" y="472.6">COL3A1</text></g>
<g id="a_PRIC"><circle class="g" cx="221" cy="495" r="3.6"/><text class="s" x="220" y="489.6">PRIC</text></g>
<g id="a_GNG2"><circle class="g" cx="193" cy="440" r="3.6"/><text class="s" x="195" y="435.6">GNG2</text></g>
<g id="a_PICALM"><circle class="g" cx="197" cy="469" r="3.6"/><text class="s" x="195" y="462.6">PICALM</text></g>
<g id="a_RALB"><circle class="g" cx="187" cy="495" r="3.6"/><text class="s" x="185" y="488.6">RALB</text></g>
<g id="a_TADA2L"><circle class="g" cx="180" cy="457" r="3.6"/><text class="s" x="180" y="450.6">TADA2L</text></g>
<g id="a_IRF8"><circle class="g" cx="180" cy="428" r="3.6"/><text class="s" x="178" y="421.6">IRF8</text></g>
<g id="a_MMP9"><circle class="g" cx="83" cy="367" r="3.6"/><text class="s" x="81" y="361.6">MMP9</text></g>
<g id="a_SOCS5"><circle class="g" cx="70" cy="389" r="3.6"/><text class="s" x="70" y="384.2">SOCS5</text></g>
<g id="a_CHI3L1"><circle class="g" cx="89" cy="383" r="3.6"/><text class="s" x="90" y="377.6">CHI3L1</text></g>
<g id="a_ITGAX"><circle class="g" cx="109" cy="384" r="3.6"/><text class="s" x="109" y="377.6">ITGAX</text></g>
<g id="a_ATP6V0D2"><circle class="g" cx="135" cy="384" r="3.6"/><text class="s" x="135" y="377.6">ATP6V0D2</text></g>
<g id="a_GDF15"><circle class="g" cx="155" cy="371" r="3.6"/><text class="s" x="156" y="365.6">GDF15</text></g>
<g id="a_CCDC46"><circle class="g" cx="185" cy="388" r="3.6"/><text class="s" x="188" y="382.6">CCDC46</text></g>
<g id="a_CYP27A1"><circle class="g" cx="126" cy="399" r="3.6"/><text class="s" x="127" y="393.6">CYP27A1</text></g>
<g id="a_CENTD2"><circle class="g" cx="159" cy="397" r="3.6"/><text class="s" x="159" y="391.6">CENTD2</text></g>
<g id="a_EPAS1"><circle class="g" cx="183" cy="405" r="3.6"/><text class="s" x="188" y="399.6">EPAS1</text></g>
<g id="a_AP3S1"><circle class="g" cx="23" cy="398" r="3.6"/><text class="s" x="23" y="392.6">AP3S1</text></g>
<g id="a_DHRS7B"><circle class="g" cx="40" cy="408" r="3.6"/><text class="s" x="38" y="401.6">DHRS7B</text></g>
<g id="a_BAZ1A"><circle class="g" cx="61" cy="407" r="3.6"/><text class="s" x="61" y="401.6">BAZ1A</text></g>
<g id="a_CALU"><circle class="g" cx="24" cy="422" r="3.6"/><text class="s" x="23" y="414.6">CALU</text></g>
<g id="a_HINT2"><circle class="g" cx="41" cy="429" r="3.6"/><text class="s" x="41" y="423.6">HINT2</text></g>
<g id="a_NRAS"><circle class="g" cx="61" cy="430" r="3.6"/><text class="s" x="61" y="425.6">NRAS</text></g>
<g id="a_NGRN"><circle class="g" cx="40" cy="450" r="3.6"/><text class="s" x="41" y="444.6">NGRN</text></g>
<g id="a_UXS1"><circle class="g" cx="67" cy="452" r="3.6"/><text class="s" x="65" y="446.6">UXS1</text></g>
<g id="a_S100A4"><circle class="g" cx="24" cy="444" r="3.6"/><text class="s" x="23" y="438.6">S100A4</text></g>
<g id="a_S100A10"><circle class="g" cx="25" cy="461" r="3.6"/><text class="s" x="25" y="456.6">S100A10</text></g>
<g id="a_LUM"><circle class="g" cx="99" cy="409" r="3.6"/><text class="s" x="99" y="403.6">LUM</text></g>
<g id="a_GPNMB"><circle class="g" cx="123" cy="415" r="3.6"/><text class="s" x="128" y="409.6">GPNMB</text></g>
<g id="a_CTHRC1"><circle class="g" cx="89" cy="426" r="3.6"/><text class="s" x="84" y="420.6">CTHRC1</text></g>
<g id="a_CTSK"><circle class="g" cx="113" cy="431" r="3.6"/><text class="s" x="113" y="425.6">CTSK</text></g>
<g id="a_BASP1"><circle class="g" cx="138" cy="431" r="3.6"/><text class="s" x="140" y="425.6">BASP1</text></g>
<g id="a_TNFAIP2"><circle class="g" cx="145" cy="450" r="3.6"/><text class="s" x="142" y="444.6">TNFAIP2</text></g>
<g id="a_MMP2"><circle class="g" cx="105" cy="451" r="3.6"/><text class="s" x="105" y="446.2">MMP2</text></g>
<g id="a_COL6A3"><circle class="g" cx="117" cy="469" r="3.6"/><text class="s" x="117" y="463.6">COL6A3</text></g>
<g id="a_MAP3K14"><circle class="g" cx="152" cy="474" r="3.6"/><text class="s" x="152" y="467.6">MAP3K14</text></g>
<g id="a_KCNIP3"><circle class="g" cx="66" cy="485" r="3.6"/><text class="s" x="65" y="478.6">KCNIP3</text></g>
<g id="a_TFPI2"><circle class="g" cx="107" cy="485" r="3.6"/><text class="s" x="106" y="478.6">TFPI2</text></g>
<g id="a_SMAD6"><circle class="g" cx="127" cy="485" r="3.6"/><text class="s" x="127" y="478.6">SMAD6</text></g>
<g id="a_EFHD1"><circle class="g" cx="86" cy="497" r="3.6"/><text class="s" x="86" y="490.6">EFHD1</text></g>
<g id="a_RAC2"><circle class="r" cx="135" cy="89" r="8"/><text class="h" x="135" y="79">RAC2</text></g>
<g id="a_GPSM3"><circle class="r" cx="167" cy="117" r="8"/><text class="h" x="167" y="107">GPSM3</text></g>
<g id="a_GPR137B"><circle class="r" cx="274" cy="120" r="8"/><text class="h" x="274" y="110">GPR137B</text></g>
<g id="a_TYROBP"><circle class="r" cx="161" cy="163" r="8"/><text class="h" x="160" y="152">TYROBP</text></g>
<g id="a_ARRB2"><circle class="r" cx="200" cy="178" r="8"/><text class="h" x="202" y="167">ARRB2</text></g>
<g id="a_CD53"><circle class="r" cx="128" cy="190" r="8"/><text class="h" x="128" y="178">CD53</text></g>
<g id="a_HCK"><circle class="r" cx="241" cy="211" r="8"/><text class="h" x="241" y="201">HCK</text></g>
<g id="a_MYO5A"><circle class="r" cx="57" cy="242" r="8"/><text class="h" x="57" y="231">MYO5A</text></g>
<g id="a_NPL"><circle class="r" cx="95" cy="250" r="8"/><text class="h" x="95" y="239">NPL</text></g>
<g id="a_IFI30"><circle class="r" cx="146" cy="284" r="8"/><text class="h" x="151" y="272">IFI30</text></g>
<g id="a_SLAMF7"><circle class="r" cx="217" cy="293" r="8"/><text class="h" x="215" y="282">SLAMF7</text></g>
<g id="a_TREM2"><circle class="r" cx="85" cy="346" r="8"/><text class="h" x="82" y="335">TREM2</text></g>
<g id="a_ACP5"><circle class="r" cx="126" cy="358" r="8"/><text class="h" x="126" y="348">ACP5</text></g>
<g id="a_RGS1"><circle class="r" cx="176" cy="367" r="8"/><text class="h" x="177" y="356">RGS1</text></g>
<g id="a_RAB8B"><circle class="r" cx="36" cy="380" r="8"/><text class="h" x="36" y="369">RAB8B</text></g>
<g id="a_TNXB"><circle class="r" cx="87" cy="476" r="8"/><text class="h" x="87" y="465">TNXB</text></g>
<g id="b_CD80"><circle class="g" cx="521" cy="58" r="3.6"/><text class="s" x="521" y="53.6">CD80</text></g>
<g id="b_LCP1"><circle class="g" cx="554" cy="58" r="3.6"/><text class="s" x="554" y="52.6">LCP1</text></g>
<g id="b_CCR1"><circle class="g" cx="503" cy="71" r="3.6"/><text class="s" x="503" y="64.6">CCR1</text></g>
<g id="b_HAS2"><circle class="g" cx="488" cy="69" r="3.6"/><text class="s" x="487" y="64.6">HAS2</text></g>
<g id="b_CCL3"><circle class="g" cx="435" cy="71" r="3.6"/><text class="s" x="436" y="65.6">CCL3</text></g>
<g id="b_CCL11"><circle class="g" cx="457" cy="73" r="3.6"/><text class="s" x="457" y="67.6">CCL11</text></g>
<g id="b_CD44"><circle class="g" cx="394" cy="77" r="3.6"/><text class="s" x="395" y="71.6">CD44</text></g>
<g id="b_IL1B"><circle class="g" cx="413" cy="85" r="3.6"/><text class="s" x="413" y="78.6">IL1B</text></g>
<g id="b_HAS1"><circle class="g" cx="474" cy="94" r="3.6"/><text class="s" x="473" y="88.6">HAS1</text></g>
<g id="b_RGS16"><circle class="g" cx="398" cy="117" r="3.6"/><text class="s" x="398" y="111.6">RGS16</text></g>
<g id="b_IGSF6"><circle class="g" cx="502" cy="99" r="3.6"/><text class="s" x="503" y="94.6">IGSF6</text></g>
<g id="b_COTL1"><circle class="g" cx="543" cy="115" r="3.6"/><text class="s" x="543" y="109.6">COTL1</text></g>
<g id="b_NCF4"><circle class="g" cx="571" cy="115" r="3.6"/><text class="s" x="568" y="109.6">NCF4</text></g>
<g id="b_CH25H"><circle class="g" cx="413" cy="143" r="3.6"/><text class="s" x="413" y="138.6">CH25H</text></g>
<g id="b_HK3"><circle class="g" cx="492" cy="133" r="3.6"/><text class="s" x="492" y="127.6">HK3</text></g>
<g id="b_BASP1"><circle class="g" cx="508" cy="137" r="3.6"/><text class="s" x="508" y="131.6">BASP1</text></g>
<g id="b_FGD2"><circle class="g" cx="528" cy="133" r="3.6"/><text class="s" x="526" y="128.6">FGD2</text></g>
<g id="b_ARHGDIB"><circle class="g" cx="547" cy="138" r="3.6"/><text class="s" x="547" y="132.6">ARHGDIB</text></g>
<g id="b_BIN2"><circle class="g" cx="582" cy="138" r="3.6"/><text class="s" x="581" y="132.6">BIN2</text></g>
<g id="b_DUSP1"><circle class="g" cx="441" cy="153" r="3.6"/><text class="s" x="441" y="147.6">DUSP1</text></g>
<g id="b_RGS1"><circle class="g" cx="466" cy="164" r="3.6"/><text class="s" x="466" y="158.6">RGS1</text></g>
<g id="b_CXCR4"><circle class="g" cx="490" cy="166" r="3.6"/><text class="s" x="495" y="161.6">CXCR4</text></g>
<g id="b_FCER1G"><circle class="g" cx="516" cy="157" r="3.6"/><text class="s" x="516" y="151.6">FCER1G</text></g>
<g id="b_GMFG"><circle class="g" cx="580" cy="157" r="3.6"/><text class="s" x="580" y="151.6">GMFG</text></g>
<g id="b_CCL2"><circle class="g" cx="425" cy="163" r="3.6"/><text class="s" x="423" y="158.6">CCL2</text></g>
<g id="b_PTGES"><circle class="g" cx="393" cy="170" r="3.6"/><text class="s" x="392" y="164.6">PTGES</text></g>
<g id="b_AMICA1"><circle class="g" cx="437" cy="174" r="3.6"/><text class="s" x="434" y="168.6">AMICA1</text></g>
<g id="b_DUSP2"><circle class="g" cx="480" cy="179" r="3.6"/><text class="s" x="485" y="174.6">DUSP2</text></g>
<g id="b_MYO1F"><circle class="g" cx="464" cy="187" r="3.6"/><text class="s" x="464" y="180.6">MYO1F</text></g>
<g id="b_PSCDBP"><circle class="g" cx="519" cy="180" r="3.6"/><text class="s" x="520" y="174.6">PSCDBP</text></g>
<g id="b_SLC7A7"><circle class="g" cx="576" cy="184" r="3.6"/><text class="s" x="575" y="178.6">SLC7A7</text></g>
<g id="b_AIF1"><circle class="g" cx="557" cy="198" r="3.6"/><text class="s" x="557" y="193.6">AIF1</text></g>
<g id="b_MMP19"><circle class="g" cx="479" cy="200" r="3.6"/><text class="s" x="480" y="194.6">MMP19</text></g>
<g id="b_IRAK3"><circle class="g" cx="501" cy="194" r="3.6"/><text class="s" x="502" y="189.6">IRAK3</text></g>
<g id="b_SLA"><circle class="g" cx="518" cy="205" r="3.6"/><text class="s" x="518" y="199.6">SLA</text></g>
<g id="b_C5AR1"><circle class="g" cx="465" cy="213" r="3.6"/><text class="s" x="465" y="208.6">C5AR1</text></g>
<g id="b_IL10"><circle class="g" cx="493" cy="220" r="3.6"/><text class="s" x="493" y="214.6">IL10</text></g>
<g id="b_C1QA"><circle class="g" cx="548" cy="217" r="3.6"/><text class="s" x="548" y="212.6">C1QA</text></g>
<g id="b_C1QB"><circle class="g" cx="565" cy="228" r="3.6"/><text class="s" x="562" y="221.6">C1QB</text></g>
<g id="b_IRF1"><circle class="g" cx="439" cy="214" r="3.6"/><text class="s" x="440" y="208.6">IRF1</text></g>
<g id="b_DMBT1"><circle class="g" cx="382" cy="197" r="3.6"/><text class="s" x="383" y="191.6">DMBT1</text></g>
<g id="b_BIRC3"><circle class="g" cx="383" cy="215" r="3.6"/><text class="s" x="383" y="209.6">BIRC3</text></g>
<g id="b_RUNX1"><circle class="g" cx="397" cy="232" r="3.6"/><text class="s" x="398" y="226.6">RUNX1</text></g>
<g id="b_PIK3CD"><circle class="g" cx="485" cy="238" r="3.6"/><text class="s" x="488" y="233.6">PIK3CD</text></g>
<g id="b_CSF1R"><circle class="g" cx="524" cy="232" r="3.6"/><text class="s" x="524" y="226.6">CSF1R</text></g>
<g id="b_C1QC"><circle class="g" cx="538" cy="241" r="3.6"/><text class="s" x="538" y="234.6">C1QC</text></g>
<g id="b_C3AR1"><circle class="g" cx="553" cy="241" r="3.6"/><text class="s" x="553" y="234.6">C3AR1</text></g>
<g id="b_CD244"><circle class="g" cx="498" cy="252" r="3.6"/><text class="s" x="498" y="246.6">CD244</text></g>
<g id="b_IL10RA"><circle class="g" cx="522" cy="257" r="3.6"/><text class="s" x="521" y="250.6">IL10RA</text></g>
<g id="b_FOLR2"><circle class="g" cx="568" cy="255" r="3.6"/><text class="s" x="567" y="250.2">FOLR2</text></g>
<g id="b_NFKBIE"><circle class="g" cx="410" cy="251" r="3.6"/><text class="s" x="408" y="244.6">NFKBIE</text></g>
<g id="b_LFNG"><circle class="g" cx="457" cy="264" r="3.6"/><text class="s" x="455" y="259.6">LFNG</text></g>
<g id="b_ITLN1"><circle class="g" cx="478" cy="264" r="3.6"/><text class="s" x="477" y="259.6">ITLN1</text></g>
<g id="b_GBP2"><circle class="g" cx="390" cy="272" r="3.6"/><text class="s" x="390" y="265.6">GBP2</text></g>
<g id="b_TNFAIP2"><circle class="g" cx="418" cy="273" r="3.6"/><text class="s" x="422" y="268.6">TNFAIP2</text></g>
<g id="b_ARHGAP25"><circle class="g" cx="447" cy="287" r="3.6"/><text class="s" x="447" y="281.6">ARHGAP25</text></g>
<g id="b_CD300A"><circle class="g" cx="474" cy="288" r="3.6"/><text class="s" x="474" y="282.6">CD300A</text></g>
<g id="b_MSR1"><circle class="g" cx="582" cy="281" r="3.6"/><text class="s" x="580" y="275.6">MSR1</text></g>
<g id="b_MAFB"><circle class="g" cx="574" cy="307" r="3.6"/><text class="s" x="572" y="300.6">MAFB</text></g>
<g id="b_TLR4"><circle class="g" cx="500" cy="304" r="3.6"/><text class="s" x="500" y="299.6">TLR4</text></g>
<g id="b_GPNMB"><circle class="g" cx="542" cy="312" r="3.6"/><text class="s" x="542" y="305.6">GPNMB</text></g>
<g id="b_SCPEP1"><circle class="g" cx="518" cy="313" r="3.6"/><text class="s" x="518" y="308.6">SCPEP1</text></g>
<g id="b_PLAC8"><circle class="g" cx="558" cy="314" r="3.6"/><text class="s" x="557" y="308.6">PLAC8</text></g>
<g id="b_TREM2"><circle class="g" cx="529" cy="328" r="3.6"/><text class="s" x="527" y="322.6">TREM2</text></g>
<g id="b_FCGBP"><circle class="g" cx="510" cy="344" r="3.6"/><text class="s" x="510" y="337.6">FCGBP</text></g>
<g id="b_CCNE1"><circle class="g" cx="578" cy="328" r="3.6"/><text class="s" x="578" y="322.6">CCNE1</text></g>
<g id="b_MCTP1"><circle class="g" cx="425" cy="301" r="3.6"/><text class="s" x="423" y="294.6">MCTP1</text></g>
<g id="b_TFPI2"><circle class="g" cx="395" cy="308" r="3.6"/><text class="s" x="395" y="303.6">TFPI2</text></g>
<g id="b_IL12A"><circle class="g" cx="455" cy="310" r="3.6"/><text class="s" x="455" y="303.6">IL12A</text></g>
<g id="b_PTPRC"><circle class="g" cx="418" cy="328" r="3.6"/><text class="s" x="417" y="321.6">PTPRC</text></g>
<g id="b_TNFSF13B"><circle class="g" cx="470" cy="328" r="3.6"/><text class="s" x="467" y="321.6">TNFSF13B</text></g>
<g id="b_PSMB9"><circle class="g" cx="488" cy="325" r="3.6"/><text class="s" x="488" y="319.6">PSMB9</text></g>
<g id="b_PAG1"><circle class="g" cx="380" cy="338" r="3.6"/><text class="s" x="382" y="333.2">PAG1</text></g>
<g id="b_SAMSN1"><circle class="g" cx="405" cy="351" r="3.6"/><text class="s" x="405" y="346.6">SAMSN1</text></g>
<g id="b_CASP1"><circle class="g" cx="474" cy="349" r="3.6"/><text class="s" x="474" y="344.6">CASP1</text></g>
<g id="b_B2M"><circle class="g" cx="543" cy="347" r="3.6"/><text class="s" x="543" y="340.6">B2M</text></g>
<g id="b_CD48"><circle class="g" cx="466" cy="369" r="3.6"/><text class="s" x="466" y="364.6">CD48</text></g>
<g id="b_CXCL9"><circle class="g" cx="539" cy="366" r="3.6"/><text class="s" x="539" y="361.6">CXCL9</text></g>
<g id="b_PAQR4"><circle class="g" cx="558" cy="373" r="3.6"/><text class="s" x="557" y="366.6">PAQR4</text></g>
<g id="b_STX11"><circle class="g" cx="409" cy="375" r="3.6"/><text class="s" x="408" y="370.6">STX11</text></g>
<g id="b_LAP3"><circle class="g" cx="427" cy="383" r="3.6"/><text class="s" x="427" y="376.6">LAP3</text></g>
<g id="b_GPR65"><circle class="g" cx="438" cy="373" r="3.6"/><text class="s" x="437" y="367.6">GPR65</text></g>
<g id="b_CXCL10"><circle class="g" cx="525" cy="385" r="3.6"/><text class="s" x="525" y="380.6">CXCL10</text></g>
<g id="b_GBP5"><circle class="g" cx="507" cy="403" r="3.6"/><text class="s" x="507" y="397.6">GBP5</text></g>
<g id="b_IFNGR1"><circle class="g" cx="445" cy="393" r="3.6"/><text class="s" x="445" y="386.6">IFNGR1</text></g>
<g id="b_LYSMD2"><circle class="g" cx="392" cy="396" r="3.6"/><text class="s" x="395" y="390.6">LYSMD2</text></g>
<g id="b_PLK2"><circle class="g" cx="384" cy="378" r="3.6"/><text class="s" x="383" y="372.6">PLK2</text></g>
<g id="b_SDC4"><circle class="g" cx="373" cy="400" r="3.6"/><text class="s" x="373" y="395.6">SDC4</text></g>
<g id="b_GMNN"><circle class="g" cx="563" cy="393" r="3.6"/><text class="s" x="562" y="386.6">GMNN</text></g>
<g id="b_GNAI1"><circle class="g" cx="544" cy="400" r="3.6"/><text class="s" x="542" y="395.6">GNAI1</text></g>
<g id="b_EXO1"><circle class="g" cx="573" cy="408" r="3.6"/><text class="s" x="573" y="402.6">EXO1</text></g>
<g id="b_PLSCR1"><circle class="g" cx="416" cy="410" r="3.6"/><text class="s" x="415" y="403.6">PLSCR1</text></g>
<g id="b_SKIL"><circle class="g" cx="453" cy="415" r="3.6"/><text class="s" x="454" y="409.6">SKIL</text></g>
<g id="b_CD14"><circle class="g" cx="522" cy="415" r="3.6"/><text class="s" x="522" y="410.6">CD14</text></g>
<g id="b_SHCBP1"><circle class="g" cx="559" cy="420" r="3.6"/><text class="s" x="558" y="415.6">SHCBP1</text></g>
<g id="b_CENPE"><circle class="g" cx="540" cy="429" r="3.6"/><text class="s" x="539" y="422.6">CENPE</text></g>
<g id="b_IL1RN"><circle class="g" cx="473" cy="425" r="3.6"/><text class="s" x="473" y="419.6">IL1RN</text></g>
<g id="b_HIF1A"><circle class="g" cx="426" cy="431" r="3.6"/><text class="s" x="425" y="426.6">HIF1A</text></g>
<g id="b_ADAMTS1"><circle class="g" cx="374" cy="444" r="3.6"/><text class="s" x="372" y="438.6">ADAMTS1</text></g>
<g id="b_MAP3K8"><circle class="g" cx="452" cy="444" r="3.6"/><text class="s" x="451" y="437.6">MAP3K8</text></g>
<g id="b_BTG1"><circle class="g" cx="492" cy="439" r="3.6"/><text class="s" x="492" y="432.6">BTG1</text></g>
<g id="b_BIRC5"><circle class="g" cx="569" cy="439" r="3.6"/><text class="s" x="569" y="432.6">BIRC5</text></g>
<g id="b_CDC45L"><circle class="g" cx="600" cy="351" r="3.6"/><text class="s" x="600" y="345.6">CDC45L</text></g>
<g id="b_ACSM3"><circle class="g" cx="642" cy="346" r="3.6"/><text class="s" x="641" y="340">ACSM3</text></g>
<g id="b_TNFAIP8"><circle class="g" cx="617" cy="364" r="3.6"/><text class="s" x="615" y="358.6">TNFAIP8</text></g>
<g id="b_MCM6"><circle class="g" cx="634" cy="372" r="3.6"/><text class="s" x="633" y="366.6">MCM6</text></g>
<g id="b_HNMT"><circle class="g" cx="694" cy="368" r="3.6"/><text class="s" x="692" y="363.6">HNMT</text></g>
<g id="b_AUH"><circle class="g" cx="712" cy="366" r="3.6"/><text class="s" x="712" y="360.6">AUH</text></g>
<g id="b_SLC25A13"><circle class="g" cx="664" cy="379" r="3.6"/><text class="s" x="664" y="372.6">SLC25A13</text></g>
<g id="b_CCDC28A"><circle class="g" cx="713" cy="384" r="3.6"/><text class="s" x="713" y="378.6">CCDC28A</text></g>
<g id="b_PON1"><circle class="g" cx="651" cy="389" r="3.6"/><text class="s" x="651" y="383.6">PON1</text></g>
<g id="b_EZH2"><circle class="g" cx="606" cy="393" r="3.6"/><text class="s" x="606" y="386.6">EZH2</text></g>
<g id="b_CHAF1B"><circle class="g" cx="622" cy="404" r="3.6"/><text class="s" x="623" y="398.6">CHAF1B</text></g>
<g id="b_SMARCA2"><circle class="g" cx="728" cy="403" r="3.6"/><text class="s" x="728" y="397.6">SMARCA2</text></g>
<g id="b_RNF128"><circle class="g" cx="712" cy="411" r="3.6"/><text class="s" x="711" y="405.6">RNF128</text></g>
<g id="b_RTN4"><circle class="g" cx="657" cy="413" r="3.6"/><text class="s" x="656" y="407.6">RTN4</text></g>
<g id="b_HELLS"><circle class="g" cx="641" cy="409" r="3.6"/><text class="s" x="638" y="403.6">HELLS</text></g>
<g id="b_BUB1"><circle class="g" cx="591" cy="408" r="3.6"/><text class="s" x="591" y="401.6">BUB1</text></g>
<g id="b_MCM3"><circle class="g" cx="621" cy="421" r="3.6"/><text class="s" x="619" y="415.6">MCM3</text></g>
<g id="b_CENPA"><circle class="g" cx="586" cy="426" r="3.6"/><text class="s" x="586" y="420.6">CENPA</text></g>
<g id="b_MUT"><circle class="g" cx="702" cy="428" r="3.6"/><text class="s" x="701" y="421.6">MUT</text></g>
<g id="b_BNIP3"><circle class="g" cx="721" cy="435" r="3.6"/><text class="s" x="718" y="430.6">BNIP3</text></g>
<g id="b_LMNB2"><circle class="g" cx="612" cy="440" r="3.6"/><text class="s" x="611" y="435.6">LMNB2</text></g>
<g id="b_GATM"><circle class="g" cx="646" cy="453" r="3.6"/><text class="s" x="646" y="447.6">GATM</text></g>
<g id="b_P4HB"><circle class="g" cx="766" cy="349" r="3.6"/><text class="s" x="765" y="344.6">P4HB</text></g>
<g id="b_PDIA4"><circle class="g" cx="770" cy="389" r="3.6"/><text class="s" x="770" y="382.6">PDIA4</text></g>
<g id="b_SCARB1"><circle class="g" cx="753" cy="405" r="3.6"/><text class="s" x="753" y="398.6">SCARB1</text></g>
<g id="b_CD163"><circle class="g" cx="594" cy="179" r="3.6"/><text class="s" x="594" y="173.6">CD163</text></g>
<g id="b_RAB31"><circle class="g" cx="618" cy="192" r="3.6"/><text class="s" x="618" y="186.6">RAB31</text></g>
<g id="b_BCAT1"><circle class="g" cx="652" cy="192" r="3.6"/><text class="s" x="652" y="186.6">BCAT1</text></g>
<g id="b_TBXAS1"><circle class="g" cx="617" cy="210" r="3.6"/><text class="s" x="615" y="204.6">TBXAS1</text></g>
<g id="b_ITGB2"><circle class="g" cx="631" cy="219" r="3.6"/><text class="s" x="631" y="214.6">ITGB2</text></g>
<g id="b_TLR2"><circle class="g" cx="605" cy="232" r="3.6"/><text class="s" x="603" y="226.6">TLR2</text></g>
<g id="b_STEAP4"><circle class="g" cx="627" cy="245" r="3.6"/><text class="s" x="625" y="239.6">STEAP4</text></g>
<g id="b_CFP"><circle class="g" cx="587" cy="242" r="3.6"/><text class="s" x="587" y="235.6">CFP</text></g>
<g id="b_FUCA1"><circle class="g" cx="601" cy="258" r="3.6"/><text class="s" x="600" y="252.6">FUCA1</text></g>
<g id="b_VCAM1"><circle class="g" cx="591" cy="267" r="3.6"/><text class="s" x="590" y="261.6">VCAM1</text></g>
<g id="b_GPR34"><circle class="g" cx="612" cy="278" r="3.6"/><text class="s" x="611" y="272.6">GPR34</text></g>
<g id="b_HACE1"><circle class="g" cx="653" cy="291" r="3.6"/><text class="s" x="651" y="285.6">HACE1</text></g>
<g id="b_ATP8B1"><circle class="g" cx="651" cy="245" r="3.6"/><text class="s" x="648" y="239.6">ATP8B1</text></g>
<g id="b_ARPC5"><circle class="g" cx="663" cy="259" r="3.6"/><text class="s" x="663" y="253.6">ARPC5</text></g>
<g id="b_RASGRP2"><circle class="g" cx="671" cy="217" r="3.6"/><text class="s" x="671" y="211.6">RASGRP2</text></g>
<g id="b_CTSS"><circle class="g" cx="685" cy="240" r="3.6"/><text class="s" x="685" y="234.6">CTSS</text></g>
<g id="b_GNG12"><circle class="g" cx="697" cy="253" r="3.6"/><text class="s" x="696" y="248">GNG12</text></g>
<g id="b_NPL"><circle class="g" cx="706" cy="218" r="3.6"/><text class="s" x="705" y="212.6">NPL</text></g>
<g id="b_PTPRO"><circle class="g" cx="719" cy="204" r="3.6"/><text class="s" x="716" y="198.6">PTPRO</text></g>
<g id="b_EVI2A"><circle class="g" cx="701" cy="192" r="3.6"/><text class="s" x="701" y="187.6">EVI2A</text></g>
<g id="b_HMGB2"><circle class="g" cx="715" cy="174" r="3.6"/><text class="s" x="715" y="169.2">HMGB2</text></g>
<g id="b_SPIC"><circle class="g" cx="741" cy="184" r="3.6"/><text class="s" x="741" y="179.6">SPIC</text></g>
<g id="b_ECM2"><circle class="g" cx="722" cy="258" r="3.6"/><text class="s" x="720" y="251.6">ECM2</text></g>
<g id="b_RSOQ"><circle class="g" cx="722" cy="278" r="3.6"/><text class="s" x="721" y="272.6">RSOQ</text></g>
<g id="b_CADPS2"><circle class="g" cx="743" cy="265" r="3.6"/><text class="s" x="741" y="259.6">CADPS2</text></g>
<g id="b_SURF4"><circle class="g" cx="742" cy="283" r="3.6"/><text class="s" x="741" y="277.6">SURF4</text></g>
<g id="b_PPIL1"><circle class="g" cx="758" cy="296" r="3.6"/><text class="s" x="756" y="289.6">PPIL1</text></g>
<g id="b_PDIA3"><circle class="g" cx="723" cy="298" r="3.6"/><text class="s" x="723" y="291.6">PDIA3</text></g>
<g id="b_SDF2L1"><circle class="g" cx="706" cy="307" r="3.6"/><text class="s" x="705" y="300.6">SDF2L1</text></g>
<g id="b_TMED9"><circle class="g" cx="735" cy="311" r="3.6"/><text class="s" x="740" y="304.6">TMED9</text></g>
<g id="b_CD5L"><circle class="g" cx="686" cy="271" r="3.6"/><text class="s" x="686" y="264.6">CD5L</text></g>
<g id="b_KCNAB1"><circle class="g" cx="688" cy="287" r="3.6"/><text class="s" x="688" y="281.6">KCNAB1</text></g>
<g id="b_MKNK2"><circle class="g" cx="671" cy="302" r="3.6"/><text class="s" x="670" y="295.6">MKNK2</text></g>
<g id="b_ACADM"><circle class="g" cx="684" cy="328" r="3.6"/><text class="s" x="682" y="323.6">ACADM</text></g>
<g id="b_PANK1"><circle class="g" cx="655" cy="321" r="3.6"/><text class="s" x="654" y="314.6">PANK1</text></g>
<g id="b_MCM5"><circle class="g" cx="640" cy="327" r="3.6"/><text class="s" x="645" y="321.6">MCM5</text></g>
<g id="b_MCM2"><circle class="g" cx="623" cy="338" r="3.6"/><text class="s" x="628" y="332.6">MCM2</text></g>
<g id="b_TYMS"><circle class="g" cx="600" cy="323" r="3.6"/><text class="s" x="598" y="318.6">TYMS</text></g>
<g id="b_MS4A7"><circle class="g" cx="601" cy="301" r="3.6"/><text class="s" x="598" y="295.6">MS4A7</text></g>
<g id="b_PPIB"><circle class="g" cx="775" cy="322" r="3.6"/><text class="s" x="772" y="316.6">PPIB</text></g>
<g id="b_BATF"><circle class="g" cx="626" cy="46" r="3.6"/><text class="s" x="625" y="40.6">BATF</text></g>
<g id="b_NFE2"><circle class="g" cx="637" cy="66" r="3.6"/><text class="s" x="636" y="60.6">NFE2</text></g>
<g id="b_TUBB2B"><circle class="g" cx="686" cy="51" r="3.6"/><text class="s" x="686" y="44.6">TUBB2B</text></g>
<g id="b_PPM2C"><circle class="g" cx="736" cy="49" r="3.6"/><text class="s" x="736" y="43.6">PPM2C</text></g>
<g id="b_CTHRC1"><circle class="g" cx="711" cy="68" r="3.6"/><text class="s" x="711" y="63.6">CTHRC1</text></g>
<g id="b_SEMA3C"><circle class="g" cx="744" cy="77" r="3.6"/><text class="s" x="744" y="71.6">SEMA3C</text></g>
<g id="b_LHFPL2"><circle class="g" cx="685" cy="78" r="3.6"/><text class="s" x="685" y="73.6">LHFPL2</text></g>
<g id="b_S100A8"><circle class="g" cx="646" cy="84" r="3.6"/><text class="s" x="646" y="78.6">S100A8</text></g>
<g id="b_CIB1"><circle class="g" cx="668" cy="86" r="3.6"/><text class="s" x="668" y="79.6">CIB1</text></g>
<g id="b_SIGLEC5"><circle class="g" cx="625" cy="90" r="3.6"/><text class="s" x="625" y="84.6">SIGLEC5</text></g>
<g id="b_ANXA1"><circle class="g" cx="743" cy="104" r="3.6"/><text class="s" x="741" y="98.6">ANXA1</text></g>
<g id="b_S100A9"><circle class="g" cx="651" cy="107" r="3.6"/><text class="s" x="648" y="100.6">S100A9</text></g>
<g id="b_CD63"><circle class="g" cx="672" cy="109" r="3.6"/><text class="s" x="672" y="103.6">CD63</text></g>
<g id="b_NCF2"><circle class="g" cx="600" cy="112" r="3.6"/><text class="s" x="601" y="106.6">NCF2</text></g>
<g id="b_UXS1"><circle class="g" cx="635" cy="118" r="3.6"/><text class="s" x="635" y="113.6">UXS1</text></g>
<g id="b_CLIC1"><circle class="g" cx="660" cy="132" r="3.6"/><text class="s" x="660" y="126.6">CLIC1</text></g>
<g id="b_FER1L3"><circle class="g" cx="701" cy="131" r="3.6"/><text class="s" x="700" y="125.6">FER1L3</text></g>
<g id="b_PDK3"><circle class="g" cx="720" cy="135" r="3.6"/><text class="s" x="720" y="129.6">PDK3</text></g>
<g id="b_TNFAIP6"><circle class="g" cx="748" cy="133" r="3.6"/><text class="s" x="748" y="127.6">TNFAIP6</text></g>
<g id="b_PRC1"><circle class="g" cx="754" cy="151" r="3.6"/><text class="s" x="754" y="144.6">PRC1</text></g>
<g id="b_HMMR"><circle class="g" cx="733" cy="158" r="3.6"/><text class="s" x="733" y="152.6">HMMR</text></g>
<g id="b_HCK"><circle class="r" cx="539" cy="92" r="8"/><text class="h" x="539" y="82">HCK</text></g>
<g id="b_CYBB"><circle class="r" cx="586" cy="75" r="8"/><text class="h" x="587" y="65">CYBB</text></g>
<g id="b_IL6"><circle class="r" cx="431" cy="109" r="8"/><text class="h" x="431" y="99">IL6</text></g>
<g id="b_HBEGF"><circle class="r" cx="469" cy="126" r="8"/><text class="h" x="469" y="115">HBEGF</text></g>
<g id="b_NCKAP1L"><circle class="r" cx="547" cy="170" r="8"/><text class="h" x="546" y="161">NCKAP1L</text></g>
<g id="b_CD53"><circle class="r" cx="585" cy="220" r="8"/><text class="h" x="587" y="209">CD53</text></g>
<g id="b_RELB"><circle class="r" cx="413" cy="214" r="8"/><text class="h" x="413" y="203">RELB</text></g>
<g id="b_ARHGAP30"><circle class="r" cx="448" cy="247" r="8"/><text class="h" x="448" y="236">ARHGAP30</text></g>
<g id="b_TYROBP"><circle class="r" cx="516" cy="286" r="8"/><text class="h" x="516" y="276">TYROBP</text></g>
<g id="b_FGL2"><circle class="r" cx="554" cy="293" r="8"/><text class="h" x="554" y="284">FGL2</text></g>
<g id="b_FYB"><circle class="r" cx="440" cy="346" r="8"/><text class="h" x="440" y="336">FYB</text></g>
<g id="b_SLAMF7"><circle class="r" cx="485" cy="401" r="8"/><text class="h" x="485" y="391">SLAMF7</text></g>
<g id="b_CHSY1"><circle class="r" cx="402" cy="442" r="8"/><text class="h" x="396" y="432">CHSY1</text></g>
<g id="b_ORC1L"><circle class="r" cx="587" cy="385" r="8"/><text class="h" x="588" y="375">ORC1L</text></g>
<g id="b_EHHADH"><circle class="r" cx="673" cy="358" r="8"/><text class="h" x="673" y="347">EHHADH</text></g>
<g id="b_SLC2A2"><circle class="r" cx="684" cy="405" r="8"/><text class="h" x="684" y="394">SLC2A2</text></g>
<g id="b_FMO3"><circle class="r" cx="671" cy="439" r="8"/><text class="h" x="671" y="428">FMO3</text></g>
<g id="b_CALR"><circle class="r" cx="744" cy="373" r="8"/><text class="h" x="744" y="363">CALR</text></g>
<g id="b_CRELD2"><circle class="r" cx="722" cy="344" r="8"/><text class="h" x="716" y="332">CRELD2</text></g>
<g id="b_CLEC7A"><circle class="r" cx="611" cy="173" r="8"/><text class="h" x="611" y="164">CLEC7A</text></g>
<g id="b_MAPRE1"><circle class="r" cx="659" cy="163" r="8"/><text class="h" x="659" y="153">MAPRE1</text></g>
<g id="b_VIM"><circle class="r" cx="717" cy="97" r="8"/><text class="h" x="717" y="86">VIM</text></g>
<g id="b_DCK"><circle class="r" cx="633" cy="278" r="8"/><text class="h" x="633" y="267">DCK</text></g>
<g id="b_MLF1IP"><circle class="r" cx="625" cy="309" r="8"/><text class="h" x="631" y="297">MLF1IP</text></g>
</svg>
